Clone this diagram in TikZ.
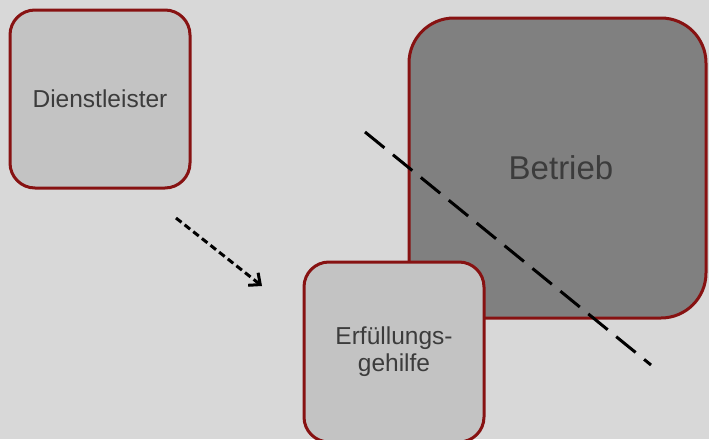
\documentclass[tikz,border=0pt]{standalone}
\usepackage{fontspec}
\setmainfont{Liberation Sans}
\usetikzlibrary{arrows.meta}
\definecolor{bgcol}{RGB}{216,216,216}
\definecolor{boxlight}{RGB}{195,195,195}
\definecolor{boxdark}{RGB}{128,128,128}
\definecolor{edgered}{RGB}{135,18,18}
\definecolor{txtcol}{RGB}{60,60,60}
\begin{document}
\begin{tikzpicture}[x=1pt,y=-1pt,
  party/.style={draw=edgered, line width=3pt, rounded corners=25pt,
    fill=boxlight, text=txtcol, align=center, inner sep=0pt,
    font=\fontsize{24.5}{27}\selectfont},
  firm/.style={party, fill=boxdark, rounded corners=45pt,
    font=\fontsize{33}{38}\selectfont},
  boundary/.style={line width=3pt, dash pattern=on 25pt off 11pt},
  delegate/.style={line width=3pt, dash pattern=on 7pt off 4pt,
    -{Straight Barb[length=9pt,width=16pt,line width=3pt]}}]
  \fill[bgcol] (0,0) rectangle (709,439);
  \useasboundingbox (0,0) rectangle (709,439);

  \node[party, minimum width=180pt, minimum height=178pt] (provider) at (100,99) {Dienstleister};
  \node[firm, minimum width=297pt, minimum height=300pt] (company) at (557.5,168) {};
  \node[txtcol, font=\fontsize{33}{38}\selectfont] (companylabel) at (561,168) {Betrieb};
  \node[party, minimum width=180pt, minimum height=180pt] (agent) at (394,352) {Erfüllungs-\\gehilfe};

  \coordinate (cutA) at (365,132);
  \coordinate (cutB) at (651,365);
  \draw[boundary] (cutA) -- (cutB);

  \coordinate (arrA) at (176,218);
  \coordinate (arrB) at (262,286);
  \draw[delegate] (arrA) -- (arrB);
\end{tikzpicture}
\end{document}
